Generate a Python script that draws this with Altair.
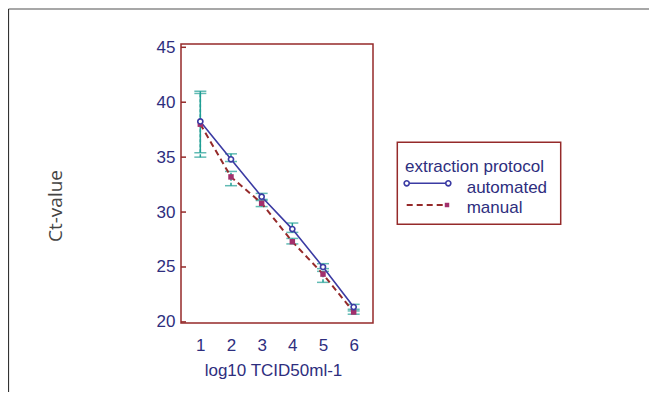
import altair as alt
import pandas as pd

# ---- data ----
log_titer = [1, 2, 3, 4, 5, 6]
auto_ct = [38.25, 34.8, 31.4, 28.45, 25.0, 21.35]
auto_lo = [35.4, 34.6, 31.15, 28.15, 24.85, 21.0]
auto_hi = [41.0, 35.3, 31.7, 29.0, 25.3, 21.6]
manual_ct = [38.0, 33.2, 30.8, 27.3, 24.35, 20.9]
manual_lo = [35.0, 32.4, 30.5, 27.1, 23.6, 20.7]
manual_hi = [40.8, 33.7, 31.05, 27.6, 24.6, 21.15]
y_ticks = [20, 25, 30, 35, 40, 45]
series_names = ["automated", "manual"]

NAVY = "#3b3ba3"
LABEL = "#2e2e7e"
DARKRED = "#952a2a"
MAGENTA = "#a3306c"
TEAL = "#1f9e94"
FONT = "Liberation Sans"

df = pd.DataFrame({
    "series": [series_names[0]] * 6 + [series_names[1]] * 6,
    "x": log_titer + log_titer,
    "ct": auto_ct + manual_ct,
    "lo": auto_lo + manual_lo,
    "hi": auto_hi + manual_hi,
})
ticks_df = pd.DataFrame({"v": y_ticks})

xs = alt.Scale(domain=[0.37, 6.63], nice=False, zero=False)
ys = alt.Scale(domain=[19.9, 45.3], nice=False, zero=False)

x_axis = alt.Axis(
    values=log_titer, title="log10 TCID50ml-1", grid=False, domain=False,
    ticks=False, tickSize=0, labelPadding=14, labelFontSize=17, labelFont=FONT,
    labelColor=LABEL, labelOverlap=False, labelFlush=False, labelSeparation=0,
    titleFont=FONT, titleFontSize=17, titleFontWeight="normal",
    titleColor=LABEL, titleX=92, titleY=52, titleBaseline="alphabetic",
    titleAlign="center", titleAnchor="start")
y_axis = alt.Axis(values=y_ticks, title=None, grid=False, domain=False, ticks=False,
                  tickSize=0, labelPadding=6, labelFontSize=17, labelFont=FONT,
                  labelColor=LABEL, labelOverlap=False)


def X():
    return alt.X("x:Q", scale=xs, axis=x_axis)


def Y(field):
    return alt.Y(field, scale=ys, axis=y_axis)


base = alt.Chart(df)
auto = base.transform_filter(alt.datum.series == "automated")
man = base.transform_filter(alt.datum.series == "manual")

err_auto = auto.mark_rule(color=TEAL, strokeWidth=1.5).encode(
    x=X(), y=Y("lo:Q"), y2="hi:Q")
cap_auto_lo = auto.mark_tick(orient="horizontal", color=TEAL, size=12, thickness=1.5).encode(
    x=X(), y=Y("lo:Q"))
cap_auto_hi = auto.mark_tick(orient="horizontal", color=TEAL, size=12, thickness=1.5).encode(
    x=X(), y=Y("hi:Q"))
err_man = man.mark_rule(color=TEAL, strokeWidth=1.5, strokeDash=[3, 2]).encode(
    x=X(), y=Y("lo:Q"), y2="hi:Q")
cap_man_lo = man.mark_tick(orient="horizontal", color=TEAL, size=12, thickness=1.5,
                           strokeDash=[4, 2]).encode(x=X(), y=Y("lo:Q"))
cap_man_hi = man.mark_tick(orient="horizontal", color=TEAL, size=12, thickness=1.5,
                           strokeDash=[4, 2]).encode(x=X(), y=Y("hi:Q"))

line_man = man.mark_line(color=DARKRED, strokeWidth=2, strokeDash=[6, 4]).encode(
    x=X(), y=Y("ct:Q"))
line_auto = auto.mark_line(color=NAVY, strokeWidth=1.6).encode(
    x=X(), y=Y("ct:Q"))
pt_man = man.mark_square(color=MAGENTA, size=30, opacity=1).encode(
    x=X(), y=Y("ct:Q"))
pt_auto = auto.mark_point(shape="circle", filled=True, fill="white", stroke=NAVY,
                          strokeWidth=1.6, size=26, opacity=1).encode(
    x=X(), y=Y("ct:Q"))

# inward y ticks on the frame
yticks = alt.Chart(ticks_df).mark_rule(color=DARKRED, strokeWidth=1.5).encode(
    y=alt.Y("v:Q", scale=ys, axis=y_axis), x=alt.value(0), x2=alt.value(5))

one = alt.Chart(pd.DataFrame({"a": [0]}))

y_title = one.mark_text(text="Ct-value", font="Open Sans", fontSize=19, color="#444444",
                        angle=270, align="center", baseline="middle").encode(
    x=alt.value(-125), y=alt.value(162))

# legend (decoration)
leg_box = one.mark_rect(fillOpacity=0, stroke=DARKRED, strokeWidth=1.5).encode(
    x=alt.value(216.3), x2=alt.value(379.7), y=alt.value(98.3), y2=alt.value(180.3))
leg_title = one.mark_text(text="extraction protocol", font=FONT, fontSize=17, color=LABEL,
                          align="left", baseline="alphabetic").encode(
    x=alt.value(224), y=alt.value(128))
leg_l1 = one.mark_rule(color=NAVY, strokeWidth=1.6).encode(
    x=alt.value(225.7), x2=alt.value(267.3), y=alt.value(139.3))
leg_p1a = one.mark_point(shape="circle", filled=True, fill="white", stroke=NAVY,
                         strokeWidth=1.6, size=26, opacity=1).encode(
    x=alt.value(225.7), y=alt.value(139.3))
leg_p1b = one.mark_point(shape="circle", filled=True, fill="white", stroke=NAVY,
                         strokeWidth=1.6, size=26, opacity=1).encode(
    x=alt.value(267.3), y=alt.value(139.3))
leg_t1 = one.mark_text(text="automated", font=FONT, fontSize=17, color=LABEL,
                       align="left", baseline="alphabetic").encode(
    x=alt.value(285.7), y=alt.value(149.3))
leg_l2 = one.mark_rule(color=DARKRED, strokeWidth=2, strokeDash=[6, 4]).encode(
    x=alt.value(225.7), x2=alt.value(266), y=alt.value(161))
leg_p2 = one.mark_square(color=MAGENTA, size=20, opacity=1).encode(
    x=alt.value(266), y=alt.value(161))
leg_t2 = one.mark_text(text="manual", font=FONT, fontSize=17, color=LABEL,
                       align="left", baseline="alphabetic").encode(
    x=alt.value(285.7), y=alt.value(169.3))

# outer frame
frame_top = one.mark_rule(color="#8a8a8a", strokeWidth=1.5).encode(
    x=alt.value(-172.5), x2=alt.value(470), y=alt.value(-35))
frame_left = one.mark_rule(color="#333333", strokeWidth=1.2).encode(
    x=alt.value(-172.5), y=alt.value(-35), y2=alt.value(350))

chart = alt.layer(
    err_auto, cap_auto_lo, cap_auto_hi, err_man, cap_man_lo, cap_man_hi,
    line_man, line_auto, pt_man, pt_auto, yticks, y_title,
    leg_box, leg_title, leg_l1, leg_p1a, leg_p1b, leg_t1, leg_l2, leg_p2, leg_t2,
    frame_top, frame_left,
).properties(
    width=192, height=279,
    autosize=alt.AutoSizeParams(type="none"),
    padding={"left": 173, "top": 36, "right": 276, "bottom": 69},
    background="white",
).configure_view(
    stroke=DARKRED, strokeWidth=1.5
).configure_axis(labelOverlap=False)

chart.save("out.html", embed_options={"renderer": "svg", "actions": False})
